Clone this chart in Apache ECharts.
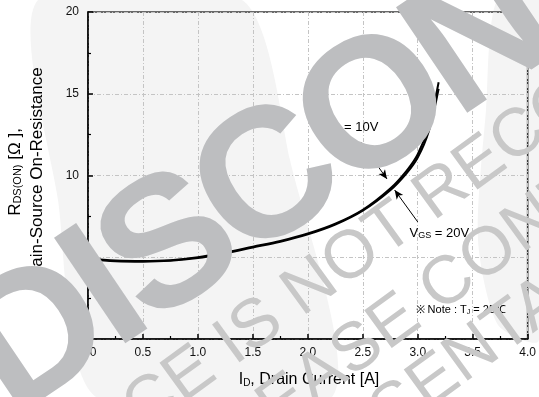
<!DOCTYPE html>
<html>
<head>
<meta charset="utf-8">
<script src="https://cdn.jsdelivr.net/npm/echarts@6/dist/echarts.min.js"></script>
<style>
  html, body { margin: 0; padding: 0; background: #ffffff; }
  #chart { width: 539px; height: 397px; }
</style>
</head>
<body>
<div id="chart"></div>
<script>
// Drain current sample points [A]
const currentA = [0, 0.25, 0.5, 0.75, 1.0, 1.25, 1.5, 1.75, 2.0, 2.25, 2.5, 2.75, 2.9, 3.0, 3.1, 3.19];
// On-resistance at VGS = 10 V [Ohm]
const rdsVgs10 = [4.92, 4.8, 4.77, 4.82, 5.0, 5.3, 5.65, 6.0, 6.45, 7.05, 7.9, 9.2, 10.3, 11.3, 13.0, 15.7];
// On-resistance at VGS = 20 V [Ohm]
const rdsVgs20 = [4.88, 4.76, 4.73, 4.78, 4.95, 5.25, 5.6, 5.95, 6.4, 7.0, 7.85, 9.1, 10.15, 11.1, 12.7, 15.3];

// Axis tick labels
const xTickLabels = ['0.0', '0.5', '1.0', '1.5', '2.0', '2.5', '3.0', '3.5', '4.0'];
const yTickLabels = ['0', '5', '10', '15', '20'];

// Annotation anchors in data units [I_D, R_DS(on)]
const label10At = [2.10, 12.97];
const arrow10From = [2.48, 12.05];
const arrow10To = [2.72, 9.79];
const label20At = [2.925, 6.48];
const arrow20From = [3.0, 7.16];
const arrow20To = [2.79, 9.11];
const noteAt = [2.98, 1.77];

const FONT = '"Liberation Sans", Arial, Helvetica, sans-serif';

const chart = echarts.init(document.getElementById('chart'), null, { renderer: 'canvas' });

const pairs = (xs, ys) => xs.map((x, i) => [x, ys[i]]);

const lineSeries = (name, ys, extra) => Object.assign({
  name: name,
  type: 'line',
  data: pairs(currentA, ys),
  smooth: 0.35,
  showSymbol: false,
  lineStyle: { color: '#000', width: 2 },
  z: 3,
  silent: true
}, extra || {});

chart.setOption({
  animation: false,
  backgroundColor: '#ffffff',
  grid: {
    left: 88, right: 7.5, top: 12, bottom: 58,
    show: true, borderColor: '#3a3a3a', borderWidth: 1.6,
    backgroundColor: 'transparent'
  },
  xAxis: {
    type: 'value', min: 0, max: 4, interval: 0.5,
    axisLine: { show: true, onZero: false, lineStyle: { color: '#000', width: 1.5 } },
    axisTick: { show: true, inside: true, length: 5, lineStyle: { color: '#000', width: 1.5 } },
    minorTick: { show: true, splitNumber: 2, length: 3, lineStyle: { color: '#000', width: 1.2 } },
    splitLine: { show: true, lineStyle: { color: '#c4c4c4', width: 1, type: [4, 2, 1, 2] } },
    axisLabel: {
      color: '#111', fontSize: 12, fontFamily: FONT, margin: 8,
      formatter: v => xTickLabels[Math.round(v / 0.5)]
    }
  },
  yAxis: {
    type: 'value', min: 0, max: 20, interval: 5,
    axisLine: { show: true, onZero: false, lineStyle: { color: '#000', width: 1.5 } },
    axisTick: { show: true, inside: true, length: 5, lineStyle: { color: '#000', width: 1.5 } },
    minorTick: { show: true, splitNumber: 2, length: 3, lineStyle: { color: '#000', width: 1.2 } },
    splitLine: { show: true, lineStyle: { color: '#c4c4c4', width: 1, type: [4, 2, 1, 2] } },
    axisLabel: {
      color: '#111', fontSize: 12, fontFamily: FONT, margin: 9,
      formatter: v => yTickLabels[Math.round(v / 5)]
    }
  },
  series: [
    lineSeries('VGS = 10V', rdsVgs10, {
      markLine: {
        silent: true, symbol: ['none', 'arrow'], symbolSize: [6, 9],
        label: { show: false },
        lineStyle: { color: '#000', width: 1, type: 'solid' },
        data: [
          [{ coord: arrow10From }, { coord: arrow10To }],
          [{ coord: arrow20From }, { coord: arrow20To }]
        ]
      }
    }),
    lineSeries('VGS = 20V', rdsVgs20)
  ]
});

// --- text annotations, axis titles and sheet overlays ---
const px = p => chart.convertToPixel({ gridIndex: 0 }, p);
const measure = document.createElement('canvas').getContext('2d');

// place a rotated line of text so that the given character is centred on an anchor
function placeLine(text, font, idx, anchor, angleDeg) {
  measure.font = font;
  const d = measure.measureText(text.slice(0, idx)).width + measure.measureText(text[idx]).width / 2;
  const a = angleDeg * Math.PI / 180;
  return { x: anchor[0] - d * Math.cos(a), y: anchor[1] + d * Math.sin(a), rotation: a };
}

// lay out a word letter by letter along a slanted baseline with tightened spacing
function spacedLetters(word, font, idx, anchor, angleDeg, tracking, fill) {
  measure.font = font;
  const a = angleDeg * Math.PI / 180;
  const widths = word.split('').map(ch => measure.measureText(ch).width);
  const centres = [];
  let acc = 0;
  widths.forEach((w, i) => { centres.push(acc + w / 2); acc += w + tracking; });
  const base = centres[idx];
  return word.split('').map((ch, i) => {
    const d = centres[i] - base;
    return {
      type: 'text', x: anchor[0] + d * Math.cos(a), y: anchor[1] - d * Math.sin(a),
      rotation: a, z: 101, silent: true,
      style: { text: ch, font: font, fill: fill, textAlign: 'center', textVerticalAlign: 'middle' }
    };
  });
}

const subRich = (main, sub) => ({
  m: { fontSize: main, fontFamily: FONT, color: '#000', verticalAlign: 'top', lineHeight: main },
  s: { fontSize: sub, fontFamily: FONT, color: '#000', verticalAlign: 'bottom', lineHeight: sub, padding: [Math.round(main * 0.45), 0, 0, 0] }
});

const l10 = px(label10At), l20 = px(label20At), nt = px(noteAt);

const bigFont = 'bold 185px ' + FONT;
const smallFont = '68px ' + FONT;
const bigWord = 'DISCONTINUED';
const line1 = 'THIS DEVICE IS NOT RECOMMENDED FOR NEW DESIGNS';
const line2 = 'PLEASE CONTACT YOUR SALES OFFICE';
const line3 = 'FOR AN ALTERNATIVE REPRESENTATIVE';
const p1 = placeLine(line1, smallFont, line1.indexOf('RECO'), [442, 192], 36);
const p2 = placeLine(line2, smallFont, line2.indexOf('CON'), [448, 284], 36);
const p3 = placeLine(line3, smallFont, line3.indexOf('ENTAT'), [434, 382], 36);

const overlayText = (text, font, pos, fill) => ({
  type: 'text', x: pos.x, y: pos.y, rotation: pos.rotation, z: 100, silent: true,
  style: { text: text, font: font, fill: fill, textAlign: 'left', textVerticalAlign: 'middle' }
});

chart.setOption({
  graphic: [
    // faint sheet background bands
    { type: 'polygon', z: -100, silent: true,
      shape: { points: [[38, 0], [242, 0], [290, 160], [332, 397], [96, 397], [58, 200]], smooth: 0.25 },
      style: { fill: '#f4f4f4' } },
    { type: 'polygon', z: -100, silent: true,
      shape: { points: [[497, 0], [539, 0], [539, 340], [498, 325], [478, 240], [486, 110]], smooth: 0.25 },
      style: { fill: '#f4f4f4' } },

    // y-axis title (two lines, reading upward)
    { type: 'text', x: 15, y: 172, rotation: Math.PI / 2, silent: true,
      style: { text: '{m|R}{s|DS(ON)}{m| [Ω ],}', rich: subRich(17, 11), textAlign: 'center', textVerticalAlign: 'middle' } },
    { type: 'text', x: 37, y: 176, rotation: Math.PI / 2, silent: true,
      style: { text: 'Drain-Source On-Resistance', font: '17px ' + FONT, fill: '#000', textAlign: 'center', textVerticalAlign: 'middle' } },

    // x-axis title
    { type: 'text', x: 309, y: 380, silent: true,
      style: { text: '{m|I}{s|D}{m|, Drain Current [A]}', rich: subRich(16, 10), textAlign: 'center', textVerticalAlign: 'middle' } },

    // curve labels and note
    { type: 'text', x: l10[0], y: l10[1], silent: true,
      style: { text: '{m|V}{s|GS}{m| = 10V}', rich: subRich(13, 9), textAlign: 'left', textVerticalAlign: 'middle' } },
    { type: 'text', x: l20[0], y: l20[1], silent: true,
      style: { text: '{m|V}{s|GS}{m| = 20V}', rich: subRich(13, 9), textAlign: 'left', textVerticalAlign: 'middle' } },
    { type: 'text', x: nt[0], y: nt[1], silent: true,
      style: { text: '{m|※ Note : T}{s|J}{m| = 25℃}', rich: subRich(11, 7), textAlign: 'left', textVerticalAlign: 'middle' } },

    // sheet status overlay
    overlayText(line1, smallFont, p1, '#c8c8c8'),
    overlayText(line2, smallFont, p2, '#c8c8c8'),
    overlayText(line3, smallFont, p3, '#c8c8c8')
  ].concat(spacedLetters(bigWord, bigFont, 4, [377, 112], 34, -10, '#bdbec0'))
});
</script>
</body>
</html>
